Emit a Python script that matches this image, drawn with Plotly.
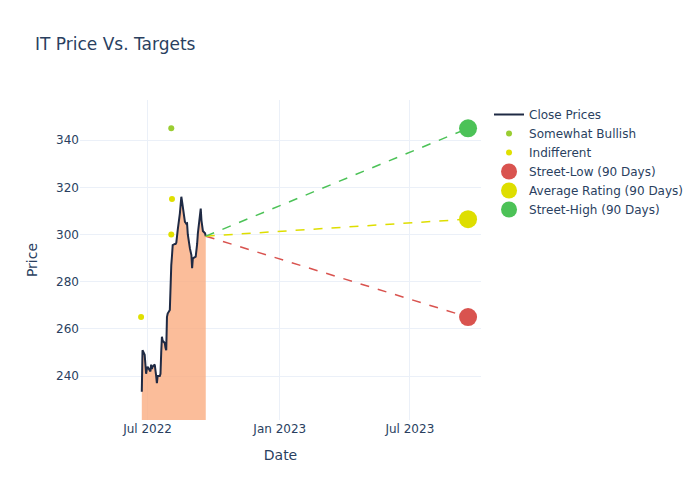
import pandas as pd
import plotly.graph_objects as go

# Close prices (trading days, Jun 23 2022 - Sep 20 2022)
close_dates = [
    "2022-06-23", "2022-06-24", "2022-06-27", "2022-06-28", "2022-06-29", "2022-06-30",
    "2022-07-01", "2022-07-05", "2022-07-06", "2022-07-07", "2022-07-08",
    "2022-07-11", "2022-07-12", "2022-07-13", "2022-07-14", "2022-07-15",
    "2022-07-18", "2022-07-19", "2022-07-20", "2022-07-21", "2022-07-22",
    "2022-07-25", "2022-07-26", "2022-07-27", "2022-07-28", "2022-07-29",
    "2022-08-01", "2022-08-02", "2022-08-03", "2022-08-04", "2022-08-05",
    "2022-08-08", "2022-08-09", "2022-08-10", "2022-08-11", "2022-08-12",
    "2022-08-15", "2022-08-16", "2022-08-17", "2022-08-18", "2022-08-19",
    "2022-08-22", "2022-08-23", "2022-08-24", "2022-08-25", "2022-08-26",
    "2022-08-29", "2022-08-30", "2022-08-31", "2022-09-01", "2022-09-02",
    "2022-09-06", "2022-09-07", "2022-09-08", "2022-09-09",
    "2022-09-12", "2022-09-13", "2022-09-14", "2022-09-15", "2022-09-16",
    "2022-09-19", "2022-09-20",
]
close_values = [
    233.4, 251.0, 249.0, 246.0, 241.0, 243.0,
    244.0, 242.0, 244.9, 243.0, 244.0,
    244.9, 243.0, 240.0, 237.0, 240.0,
    240.0, 241.0, 250.0, 256.7, 255.0,
    254.0, 252.0, 251.0, 265.0, 266.5,
    268.0, 282.0, 287.0, 291.0, 295.5,
    296.0, 296.0, 296.5, 300.0, 302.0,
    309.0, 314.6, 316.0, 314.0, 311.7,
    305.4, 305.0, 304.5, 304.7, 300.0,
    294.0, 292.5, 291.3, 285.7, 289.9,
    290.6, 293.0, 296.0, 300.5,
    309.0, 311.0, 306.0, 303.3, 301.5,
    300.5, 299.3,
]

# Analyst ratings
bullish_dates = ["2022-08-03"]
bullish_values = [345]
indiff_dates = ["2022-06-22", "2022-08-03", "2022-08-04"]
indiff_values = [265, 300, 315]

# 90-day targets
target_date = "2023-09-20"
street_low = 265
avg_rating = 306.5
street_high = 345

last_date = close_dates[-1]
last_close = close_values[-1]

fig = go.Figure()

fig.add_trace(go.Scatter(
    x=close_dates, y=close_values, mode="lines", showlegend=False,
    line=dict(width=0), fill="tozeroy", fillcolor="rgba(250,170,125,0.78)",
    hoverinfo="skip",
))
fig.add_trace(go.Scatter(
    x=close_dates, y=close_values, mode="lines", name="Close Prices",
    line=dict(color="#1f2a44", width=2),
))
fig.add_trace(go.Scatter(
    x=bullish_dates, y=bullish_values, mode="markers", name="Somewhat Bullish",
    marker=dict(color="#9acd32", size=6),
))
fig.add_trace(go.Scatter(
    x=indiff_dates, y=indiff_values, mode="markers", name="Indifferent",
    marker=dict(color="#e0e000", size=6),
))

targets = [
    ("Street-Low (90 Days)", street_low, "#d9534f"),
    ("Average Rating (90 Days)", avg_rating, "#dede00"),
    ("Street-High (90 Days)", street_high, "#4cc257"),
]
for name, val, col in targets:
    fig.add_trace(go.Scatter(
        x=[last_date, target_date], y=[last_close, val], mode="lines",
        line=dict(color=col, dash="dash", width=1.5), showlegend=False,
        hoverinfo="skip",
    ))
for name, val, col in targets:
    fig.add_trace(go.Scatter(
        x=[target_date], y=[val], mode="markers", name=name,
        marker=dict(color=col, size=18),
    ))

fig.update_layout(
    template="plotly_white",
    width=700, height=500,
    font=dict(family="DejaVu Sans"),
    title=dict(text="IT Price Vs. Targets"),
    xaxis=dict(title="Date", range=["2022-03-29", "2023-10-08"], dtick="M6",
               tick0="2022-01-01"),
    yaxis=dict(title="Price", range=[221.4, 357]),
)

fig.write_html("out.html")
